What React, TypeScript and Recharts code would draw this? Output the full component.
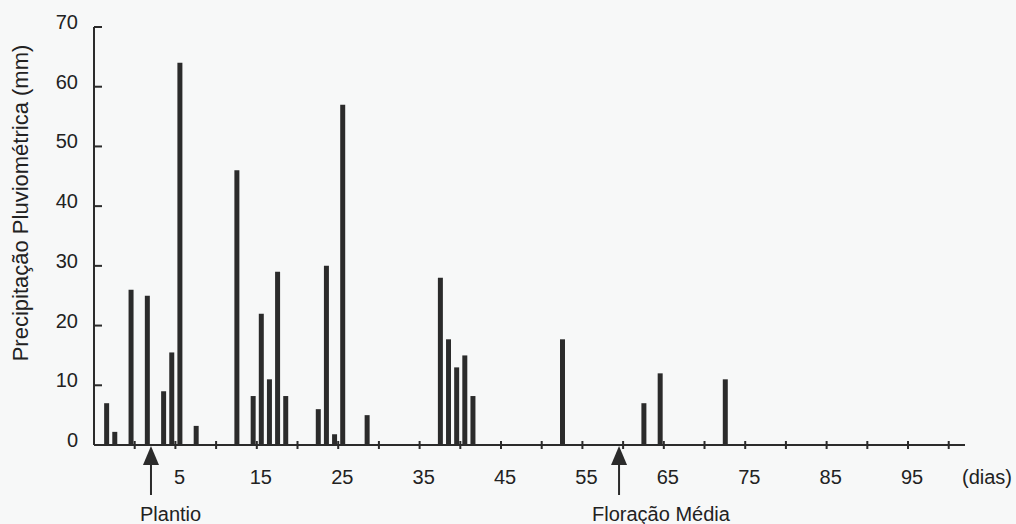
import { Bar, BarChart, XAxis, YAxis } from "recharts";

// days after planting (x) and daily rainfall in mm
const FIRST_DAY = -5;
const LAST_DAY = 101;
const rainDays = [
  -4, -3, -1, 1, 3, 4, 5, 7, 12, 14, 15, 16, 17, 18, 22, 23, 24, 25, 28, 37,
  38, 39, 40, 41, 52, 62, 64, 72,
];
const rainMm = [
  7, 2.2, 26, 25, 9, 15.5, 64, 3.2, 46, 8.2, 22, 11, 29, 8.2, 6, 30, 1.8, 57,
  5, 28, 17.7, 13, 15, 8.2, 17.7, 7, 12, 11,
];
const yTicks = [0, 10, 20, 30, 40, 50, 60, 70];
const markerNames = ["Plantio", "Floração Média"];
const markerDays = [1.5, 59];

const W = 1016;
const H = 524;
const LEFT = 94;
const RIGHT = 51;
const FONT = "'Liberation Sans', Arial, sans-serif";
const INK = "#2b2b2b";
const markerDx = [-11, -27];

const days: number[] = [];
for (let d = FIRST_DAY; d <= LAST_DAY; d++) days.push(d);
const data = days.map((day) => {
  const i = rainDays.indexOf(day);
  return { day, mm: i >= 0 ? rainMm[i] : null };
});

const BW = (W - LEFT - RIGHT) / days.length;

// ticks sit between days, labels on the day itself
function XTick(props: any) {
  const x = Number(props.x);
  const y = Number(props.y);
  const day = Number(props.payload.value);
  const showTick = day % 5 === 0 && day > FIRST_DAY;
  const showLabel = day >= 5 && day <= 95 && (day - 5) % 10 === 0;
  const bx = x - BW / 2;
  return (
    <g>
      {showTick && <rect x={bx - 1} y={y - 4} width={2} height={8} fill={INK} />}
      {showLabel && (
        <text x={x} y={y + 39} textAnchor="middle" fontSize={20} fill="#222" fontFamily={FONT}>
          {day}
        </text>
      )}
      {markerDays.map((m, i) => {
        if (Math.floor(m) !== day) return null;
        const ax = x + (m - day) * BW;
        return (
          <g key={i}>
            <rect x={ax - 1} y={y + 18} width={2} height={32} fill={INK} />
            <polygon points={`${ax},${y + 1} ${ax - 8},${y + 20} ${ax + 8},${y + 20}`} fill={INK} />
            <text x={ax + markerDx[i]} y={y + 76} fontSize={20} fill="#222" fontFamily={FONT}>
              {markerNames[i]}
            </text>
          </g>
        );
      })}
    </g>
  );
}

function YTick(props: any) {
  const x = Number(props.x);
  const y = Number(props.y);
  return (
    <g>
      <rect x={x} y={y - 1} width={8} height={2} fill={INK} />
      <text x={x - 16} y={y + 2} textAnchor="end" fontSize={20} fill="#222" fontFamily={FONT}>
        {props.payload.value}
      </text>
    </g>
  );
}

export default function App() {
  return (
    <div style={{ position: "fixed", left: 0, top: 0, width: W, height: H, background: "#f7f8f8" }}>
      <BarChart
        width={W}
        height={H}
        data={data}
        margin={{ top: 27, right: RIGHT, bottom: 0, left: 0 }}
      >
        <XAxis
          dataKey="day"
          type="category"
          height={79}
          interval={0}
          tickSize={0}
          tickMargin={0}
          tickLine={false}
          axisLine={{ stroke: INK, strokeWidth: 2 }}
          tick={(p: any) => <XTick {...p} />}
          label={{
            content: (p: any) => (
              <text
                x={p.viewBox.x + p.viewBox.width - 3}
                y={p.viewBox.y + 39}
                fontSize={20}
                fill="#222"
                fontFamily={FONT}
              >
                (dias)
              </text>
            ),
          }}
        />
        <YAxis
          type="number"
          domain={[0, 70]}
          ticks={yTicks}
          width={LEFT}
          tickSize={0}
          tickMargin={0}
          tickLine={false}
          axisLine={{ stroke: INK, strokeWidth: 2 }}
          tick={(p: any) => <YTick {...p} />}
          label={{
            content: () => (
              <text
                x={20}
                y={203}
                transform="rotate(-90 20 203)"
                textAnchor="middle"
                dominantBaseline="central"
                fontSize={22}
                fill="#222"
                fontFamily={FONT}
              >
                Precipitação Pluviométrica (mm)
              </text>
            ),
          }}
        />
        <Bar dataKey="mm" fill={INK} barSize={5} isAnimationActive={false} />
      </BarChart>
    </div>
  );
}
